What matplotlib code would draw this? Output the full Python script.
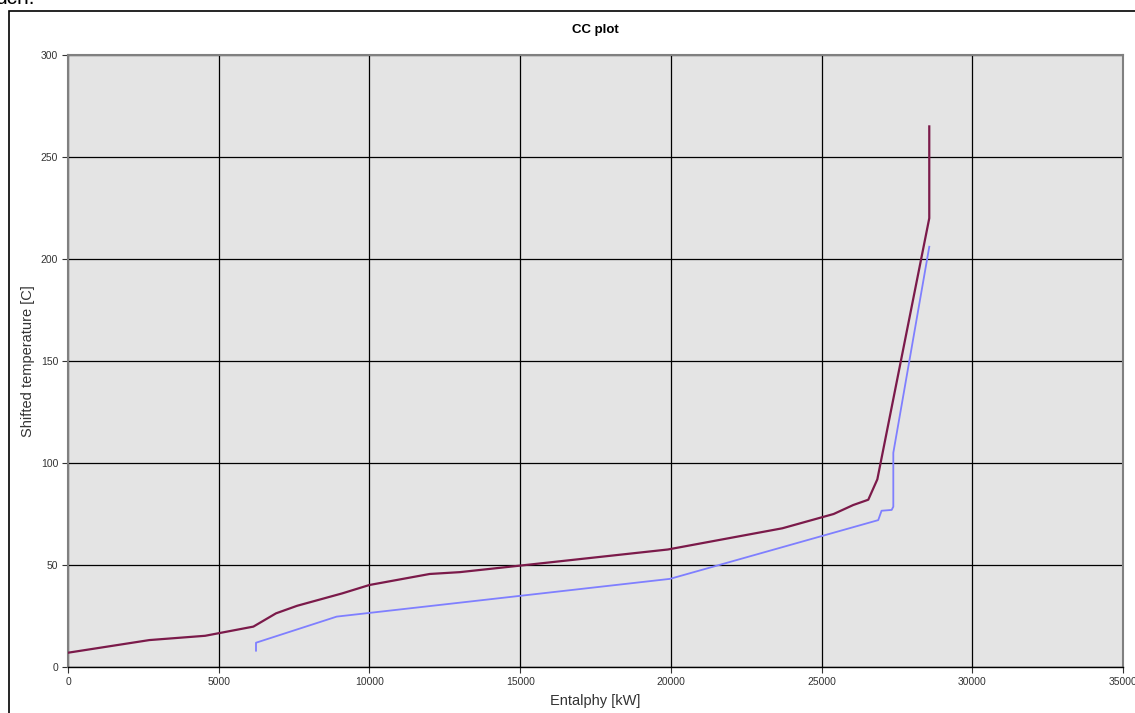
import matplotlib
matplotlib.use("Agg")
import matplotlib.pyplot as plt
from matplotlib.patches import Rectangle

plt.rcParams['font.family'] = ['Liberation Sans', 'DejaVu Sans']

# hot composite curve
hot_h = [0, 2700, 4550, 6150, 6900, 7600, 9100, 10000, 12000, 13000, 15000,
         19900, 23700, 25400, 26050, 26550, 26850, 28573, 28573]
hot_t = [7, 13.2, 15.3, 19.8, 26.3, 30.0, 36.1, 40.2, 45.6, 46.5, 49.7,
         57.6, 68.0, 75.0, 79.4, 82.0, 92.0, 220, 265]

# cold composite curve
cold_h = [6237, 6237, 8914, 19970, 26880, 26990, 27325, 27380, 27380, 28573]
cold_t = [8, 11.9, 24.7, 43.2, 72.0, 76.6, 77.0, 78.6, 105, 206]

xticks = [0, 5000, 10000, 15000, 20000, 25000, 30000, 35000]
yticks = [0, 50, 100, 150, 200, 250, 300]

fig = plt.figure(figsize=(11.35, 7.13), dpi=100)
ax = fig.add_axes([68/1135, 46/713, 1055/1135, 612/713])

ax.set_facecolor('#e4e4e4')
ax.plot(hot_h, hot_t, color='#7b1a4a', lw=1.6, zorder=3)
ax.plot(cold_h, cold_t, color='#7f7fff', lw=1.3, zorder=3)

ax.set_xlim(0, 35000)
ax.set_ylim(0, 300)
ax.set_xticks(xticks)
ax.set_yticks(yticks)
ax.grid(True, color='black', lw=0.9)
ax.set_axisbelow(True)
ax.tick_params(direction='out', length=4, labelsize=7.5, colors='#333333', pad=3)
for side in ['left', 'top', 'right']:
    ax.spines[side].set_color('#808080')
    ax.spines[side].set_linewidth(1.5)
ax.spines['bottom'].set_color('black')
ax.spines['bottom'].set_linewidth(1.0)

ax.set_title('CC plot', fontsize=9.5, fontweight='bold', pad=16)
ax.set_xlabel('Entalphy [kW]', fontsize=10.5, color='#333333', labelpad=5)
ax.set_ylabel('Shifted temperature [C]', fontsize=10.5, color='#333333', labelpad=4)

# outer frame and clipped text above it
fig.patches.append(Rectangle((9/1135, -0.5), 2.0, 0.5 + (713 - 11)/713,
                             transform=fig.transFigure, fill=False,
                             edgecolor='black', lw=1.2))
fig.text(-0.004, 705/713, 'dch.', fontsize=15, va='bottom', ha='left')

fig.savefig('out.png', dpi=100)
